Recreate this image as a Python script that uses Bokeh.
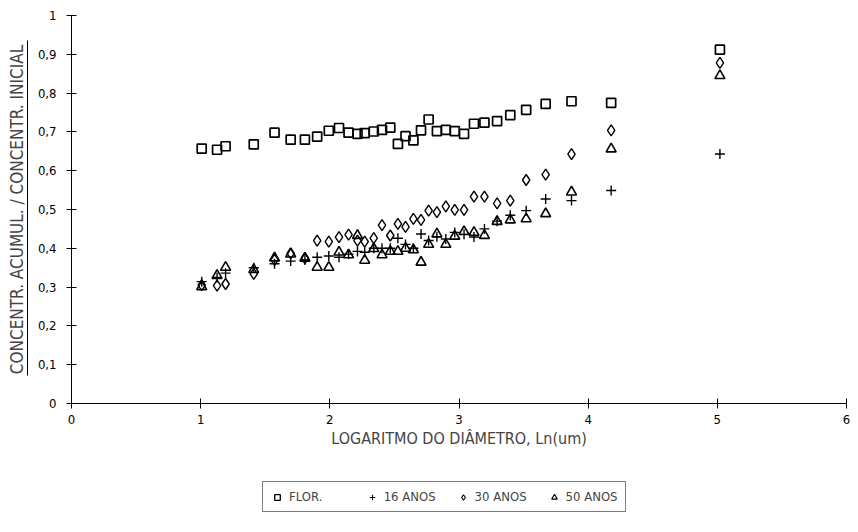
from bokeh.plotting import figure
from bokeh.models import Range1d, FixedTicker, LinearAxis, Legend, LegendItem
from bokeh.layouts import column
from bokeh.embed import file_html
from bokeh.resources import INLINE

# ---------------- data ----------------
ln_diametro = [1.008, 1.127, 1.193, 1.411, 1.572, 1.697, 1.807, 1.902, 1.992, 2.071,
               2.145, 2.214, 2.270, 2.340, 2.404, 2.468, 2.527, 2.586, 2.647, 2.706,
               2.765, 2.829, 2.898, 2.967, 3.039, 3.116, 3.197, 3.295, 3.397, 3.520,
               3.671, 3.871, 4.178, 5.020]

flor = [0.657, 0.654, 0.663, 0.668, 0.698, 0.680, 0.680, 0.688, 0.703, 0.710,
        0.698, 0.695, 0.697, 0.701, 0.705, 0.711, 0.669, 0.689, 0.678, 0.704,
        0.732, 0.702, 0.705, 0.702, 0.695, 0.721, 0.724, 0.728, 0.743, 0.757,
        0.772, 0.779, 0.775, 0.912]

anos_16 = [0.314, 0.325, 0.336, 0.350, 0.360, 0.367, 0.370, 0.377, 0.380, 0.377,
           0.385, 0.392, 0.390, 0.400, 0.400, 0.400, 0.426, 0.410, 0.400, 0.437,
           0.420, 0.430, 0.424, 0.441, 0.436, 0.429, 0.450, 0.470, 0.485, 0.497,
           0.527, 0.523, 0.549, 0.643]

anos_30 = [0.305, 0.304, 0.308, 0.334, 0.370, 0.387, 0.375, 0.420, 0.417, 0.429,
           0.435, 0.420, 0.417, 0.426, 0.460, 0.433, 0.463, 0.455, 0.476, 0.473,
           0.497, 0.493, 0.508, 0.499, 0.499, 0.533, 0.533, 0.516, 0.523, 0.576,
           0.590, 0.643, 0.704, 0.878]

anos_50 = [0.301, 0.330, 0.351, 0.345, 0.375, 0.385, 0.374, 0.351, 0.351, 0.390,
           0.383, 0.433, 0.369, 0.399, 0.383, 0.392, 0.392, 0.400, 0.396, 0.364,
           0.410, 0.437, 0.410, 0.431, 0.443, 0.441, 0.433, 0.469, 0.473, 0.476,
           0.489, 0.545, 0.656, 0.845]

series_names = ["FLOR.", "16 ANOS", "30 ANOS", "50 ANOS"]

x_ticks = [0, 1, 2, 3, 4, 5, 6]
x_tick_labels = ["0", "1", "2", "3", "4", "5", "6"]
y_ticks = [0, 0.1, 0.2, 0.3, 0.4, 0.5, 0.6, 0.7, 0.8, 0.9, 1]
y_tick_labels = ["0", "0,1", "0,2", "0,3", "0,4", "0,5", "0,6", "0,7", "0,8", "0,9", "1"]

x_title = "LOGARITMO DO DIÂMETRO, Ln(um)"
y_title = "CONCENTR. ACUMUL. / CONCENTR. INICIAL"

FONT = "Liberation Sans Narrow, Arial Narrow, DejaVu Sans Condensed, sans-serif"

# ---------------- main figure ----------------
p = figure(width=850, height=455, x_range=Range1d(0, 6), y_range=Range1d(0, 1),
           output_backend="svg", toolbar_location=None,
           min_border_left=71, min_border_right=4, min_border_top=15, min_border_bottom=52)
p.outline_line_color = None
p.xgrid.visible = False
p.ygrid.visible = False
p.background_fill_color = "white"
p.border_fill_color = "white"

def style_axis(ax, ticks, labels):
    ax.ticker = FixedTicker(ticks=ticks)
    ax.major_label_overrides = {t: l for t, l in zip(ticks, labels)}
    ax.axis_line_color = "black"
    ax.axis_line_width = 1
    ax.major_tick_line_color = "black"
    ax.major_tick_in = 5
    ax.major_tick_out = 5
    ax.minor_tick_line_color = None
    ax.major_label_text_font = FONT
    ax.major_label_text_font_size = "13px"
    ax.major_label_text_color = "black"

style_axis(p.xaxis[0], x_ticks, x_tick_labels)
style_axis(p.yaxis[0], y_ticks, y_tick_labels)
p.xaxis[0].major_label_standoff = 6
p.yaxis[0].major_label_standoff = 10
p.xaxis[0].axis_label = x_title
p.xaxis[0].axis_label_text_font = FONT
p.xaxis[0].axis_label_text_font_size = "16px"
p.xaxis[0].axis_label_text_font_style = "normal"
p.xaxis[0].axis_label_standoff = 2

# invisible spacer between tick labels and the underline
spacer = LinearAxis(ticker=FixedTicker(ticks=[0.5]), major_label_overrides={0.5: ""},
                    axis_line_color=None, major_tick_in=0, major_tick_out=7,
                    major_tick_line_color=None, minor_tick_line_color=None,
                    major_label_standoff=0, major_label_text_font_size="12px")
p.add_layout(spacer, "left")

# underline axis carrying the y title
under = LinearAxis(ticker=FixedTicker(ticks=[0.5]), bounds=(0.072, 0.935),
                   major_label_overrides={0.5: ""},
                   axis_line_color="black", axis_line_width=1,
                   major_tick_in=0, major_tick_out=0, minor_tick_out=0,
                   major_tick_line_color=None, minor_tick_line_color=None,
                   major_label_text_font=FONT, major_label_text_font_size="12px",
                   major_label_standoff=0,
                   axis_label=y_title, axis_label_text_font=FONT,
                   axis_label_text_font_size="17px", axis_label_text_font_style="normal",
                   axis_label_standoff=1)
p.add_layout(under, "left")

# ---------------- markers ----------------
r_flor = p.scatter(ln_diametro, flor, marker="square", size=9, fill_color=None,
                   line_color="black", line_width=1.7)
r_16 = p.scatter(ln_diametro, anos_16, marker="cross", size=10,
                 line_color="black", line_width=1.4)
r_30 = p.scatter(ln_diametro, anos_30, marker="diamond", size=11, fill_color=None,
                 line_color="black", line_width=1.4)
r_50 = p.scatter(ln_diametro, anos_50, marker="triangle", size=10, fill_color=None,
                 line_color="black", line_width=1.6)

# ---------------- legend strip (same markers, drawn off-range) ----------------
leg = figure(width=850, height=69, x_range=Range1d(0, 1), y_range=Range1d(0, 1),
             output_backend="svg", toolbar_location=None,
             x_axis_location=None, y_axis_location=None,
             min_border_left=0, min_border_right=0, min_border_top=0, min_border_bottom=0)
leg.outline_line_color = None
leg.xgrid.visible = False
leg.ygrid.visible = False
off = [-5]
l_flor = leg.scatter(off, off, marker="square", size=9, fill_color=None,
                     line_color="black", line_width=1.3)
l_16 = leg.scatter(off, off, marker="cross", size=10, line_color="black", line_width=1.1)
l_30 = leg.scatter(off, off, marker="diamond", size=11, fill_color=None,
                   line_color="black", line_width=1.1)
l_50 = leg.scatter(off, off, marker="triangle", size=10, fill_color=None,
                   line_color="black", line_width=1.1)

legend = Legend(items=[
    LegendItem(label=series_names[0] + "\u00a0" * 6, renderers=[l_flor]),
    LegendItem(label=series_names[1], renderers=[l_16]),
    LegendItem(label=series_names[2], renderers=[l_30]),
    LegendItem(label=series_names[3], renderers=[l_50]),
], orientation="horizontal", location=(191, 12),
    border_line_color="black", border_line_width=1,
    label_text_font=FONT, label_text_font_size="13px",
    glyph_width=14, glyph_height=14, label_standoff=5, spacing=20,
    padding=7, margin=0, background_fill_alpha=1)
leg.add_layout(legend, "center")

open("out.html", "w").write(file_html(column(p, leg, spacing=0), INLINE))
